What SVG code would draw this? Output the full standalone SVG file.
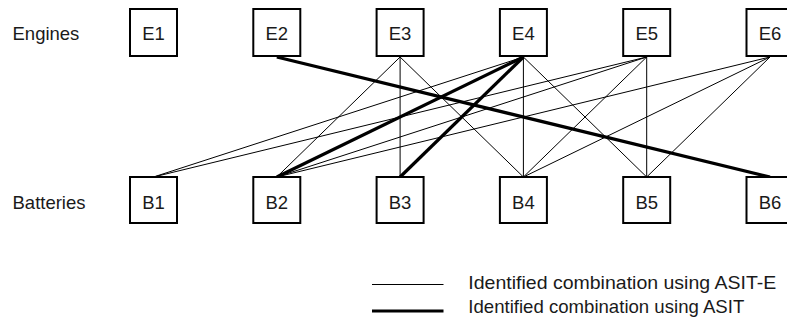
<svg xmlns="http://www.w3.org/2000/svg" width="787" height="322" viewBox="0 0 787 322">
<style>
text{font-family:"Liberation Sans",Arial,sans-serif;font-size:18.5px;fill:#1a1a1a}
.box{fill:#fff;stroke:#000;stroke-width:2}
.lbl{text-anchor:middle}
.thin{stroke:#000;stroke-width:1;fill:none}
.thick{stroke:#000;stroke-width:3.2;fill:none}
</style>
<rect width="787" height="322" fill="#fff"/>
<g id="connectors">
<line class="thin" x1="400.1" y1="57" x2="276.8" y2="177"/>
<line class="thin" x1="400.1" y1="57" x2="400.1" y2="177"/>
<line class="thin" x1="400.1" y1="57" x2="523.4" y2="177"/>
<line class="thin" x1="523.4" y1="57" x2="153.5" y2="177"/>
<line class="thin" x1="523.4" y1="57" x2="523.4" y2="177"/>
<line class="thin" x1="523.4" y1="57" x2="646.7" y2="177"/>
<line class="thin" x1="646.7" y1="57" x2="153.5" y2="177"/>
<line class="thin" x1="646.7" y1="57" x2="276.8" y2="177"/>
<line class="thin" x1="646.7" y1="57" x2="523.4" y2="177"/>
<line class="thin" x1="646.7" y1="57" x2="646.7" y2="177"/>
<line class="thin" x1="770" y1="57" x2="276.8" y2="177"/>
<line class="thin" x1="770" y1="57" x2="523.4" y2="177"/>
<line class="thin" x1="770" y1="57" x2="646.7" y2="177"/>
<line class="thick" x1="276.8" y1="57" x2="770" y2="177"/>
<line class="thick" x1="523.4" y1="57" x2="276.8" y2="177"/>
<line class="thick" x1="523.4" y1="57" x2="400.1" y2="177"/>
</g>
<text x="12.5" y="40">Engines</text>
<text x="12.5" y="208.5">Batteries</text>
<g id="E1"><rect class="box" x="130" y="9" width="47" height="47"/><text class="lbl" x="153.5" y="40">E1</text></g>
<g id="E2"><rect class="box" x="253.3" y="9" width="47" height="47"/><text class="lbl" x="276.8" y="40">E2</text></g>
<g id="E3"><rect class="box" x="376.6" y="9" width="47" height="47"/><text class="lbl" x="400.1" y="40">E3</text></g>
<g id="E4"><rect class="box" x="499.9" y="9" width="47" height="47"/><text class="lbl" x="523.4" y="40">E4</text></g>
<g id="E5"><rect class="box" x="623.2" y="9" width="47" height="47"/><text class="lbl" x="646.7" y="40">E5</text></g>
<g id="E6"><rect class="box" x="746.5" y="9" width="47" height="47"/><text class="lbl" x="770" y="40">E6</text></g>
<g id="B1"><rect class="box" x="130" y="177" width="47" height="46"/><text class="lbl" x="153.5" y="208.5">B1</text></g>
<g id="B2"><rect class="box" x="253.3" y="177" width="47" height="46"/><text class="lbl" x="276.8" y="208.5">B2</text></g>
<g id="B3"><rect class="box" x="376.6" y="177" width="47" height="46"/><text class="lbl" x="400.1" y="208.5">B3</text></g>
<g id="B4"><rect class="box" x="499.9" y="177" width="47" height="46"/><text class="lbl" x="523.4" y="208.5">B4</text></g>
<g id="B5"><rect class="box" x="623.2" y="177" width="47" height="46"/><text class="lbl" x="646.7" y="208.5">B5</text></g>
<g id="B6"><rect class="box" x="746.5" y="177" width="47" height="46"/><text class="lbl" x="770" y="208.5">B6</text></g>
<g id="legend">
<line class="thin" x1="372" y1="284.5" x2="443.5" y2="284.5"/>
<line class="thick" x1="372" y1="311" x2="443.5" y2="311"/>
<text x="468.3" y="288.5" textLength="308" lengthAdjust="spacingAndGlyphs">Identified combination using ASIT-E</text>
<text x="468.3" y="312.5" textLength="276" lengthAdjust="spacingAndGlyphs">Identified combination using ASIT</text>
</g>
</svg>
